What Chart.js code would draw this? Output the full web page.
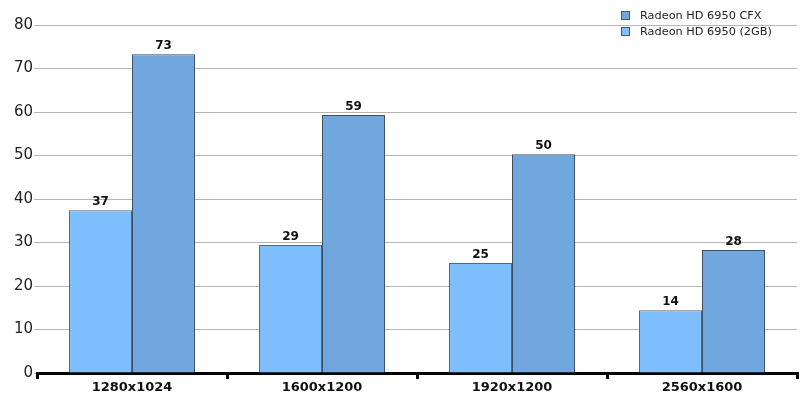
<!DOCTYPE html>
<html><head><meta charset="utf-8">
<script src="https://cdn.jsdelivr.net/npm/chart.js@4"></script>
<style>html,body{margin:0;padding:0;background:#fff}#w{width:809px;height:405px}</style>
</head><body><div id="w"><canvas id="c" width="809" height="405"></canvas></div>
<script>
const categories = ["1280x1024", "1600x1200", "1920x1200", "2560x1600"];
const series2GB = [37.4, 29.4, 25.3, 14.4];
const seriesCFX = [73.3, 59.3, 50.3, 28.3];
const yTicks = [0, 10, 20, 30, 40, 50, 60, 70, 80];
const FONT = "'DejaVu Sans', Verdana, sans-serif";

const valueLabels = {
  id: 'valueLabels',
  afterDatasetsDraw(chart) {
    const ctx = chart.ctx;
    ctx.save();
    ctx.font = "bold 12px " + FONT;
    ctx.fillStyle = '#111';
    ctx.textAlign = 'center';
    ctx.textBaseline = 'bottom';
    chart.data.datasets.forEach((ds, i) => {
      chart.getDatasetMeta(i).data.forEach((bar, j) => {
        ctx.fillText(Math.round(ds.data[j]), bar.x, bar.y - 2);
      });
    });
    ctx.restore();
  }
};

const customLegend = {
  id: 'customLegend',
  afterDraw(chart) {
    const ctx = chart.ctx;
    ctx.save();
    ctx.font = "11.3px " + FONT;
    ctx.textBaseline = 'middle';
    ctx.textAlign = 'left';
    const order = [1, 0];
    order.forEach((di, k) => {
      const ds = chart.data.datasets[di];
      const y = 15 + k * 16;
      ctx.fillStyle = ds.backgroundColor;
      ctx.fillRect(621, y - 4, 9, 9);
      ctx.strokeStyle = '#555';
      ctx.lineWidth = 1;
      ctx.strokeRect(621.5, y - 3.5, 8, 8);
      ctx.fillStyle = '#222';
      ctx.fillText(ds.label, 640, y + 1);
    });
    ctx.restore();
  }
};

new Chart(document.getElementById('c'), {
  type: 'bar',
  data: {
    labels: categories,
    datasets: [
      { label: 'Radeon HD 6950 (2GB)', data: series2GB, backgroundColor: '#80bfff', borderColor: '#5a6570', borderWidth: 1 },
      { label: 'Radeon HD 6950 CFX', data: seriesCFX, backgroundColor: '#70a7de', borderColor: '#3f5060', borderWidth: 1 }
    ]
  },
  options: {
    responsive: false,
    animation: false,
    layout: { padding: { top: 25, right: 12, left: 0, bottom: 0 } },
    datasets: { bar: { categoryPercentage: 0.663, barPercentage: 1.0 } },
    plugins: { legend: { display: false }, tooltip: { enabled: false } },
    scales: {
      x: {
        afterFit(scale) { scale.height = 32; },
        grid: { offset: true, drawOnChartArea: false, drawTicks: true, tickLength: 6, color: '#000', lineWidth: 3 },
        border: { display: true, color: '#000', width: 3 },
        ticks: { font: { family: FONT, size: 13, weight: 'bold' }, color: '#111', padding: 1 }
      },
      y: {
        min: 0, max: 80,
        afterFit(scale) { scale.width = 37; },
        afterBuildTicks(scale) { scale.ticks = yTicks.map(v => ({ value: v })); },
        grid: { color: '#b4b4b4', lineWidth: 1, drawTicks: true, tickLength: 3 },
        border: { display: false },
        ticks: { font: { family: FONT, size: 15 }, color: '#222', padding: 1 }
      }
    }
  },
  plugins: [valueLabels, customLegend]
});
</script></body></html>
